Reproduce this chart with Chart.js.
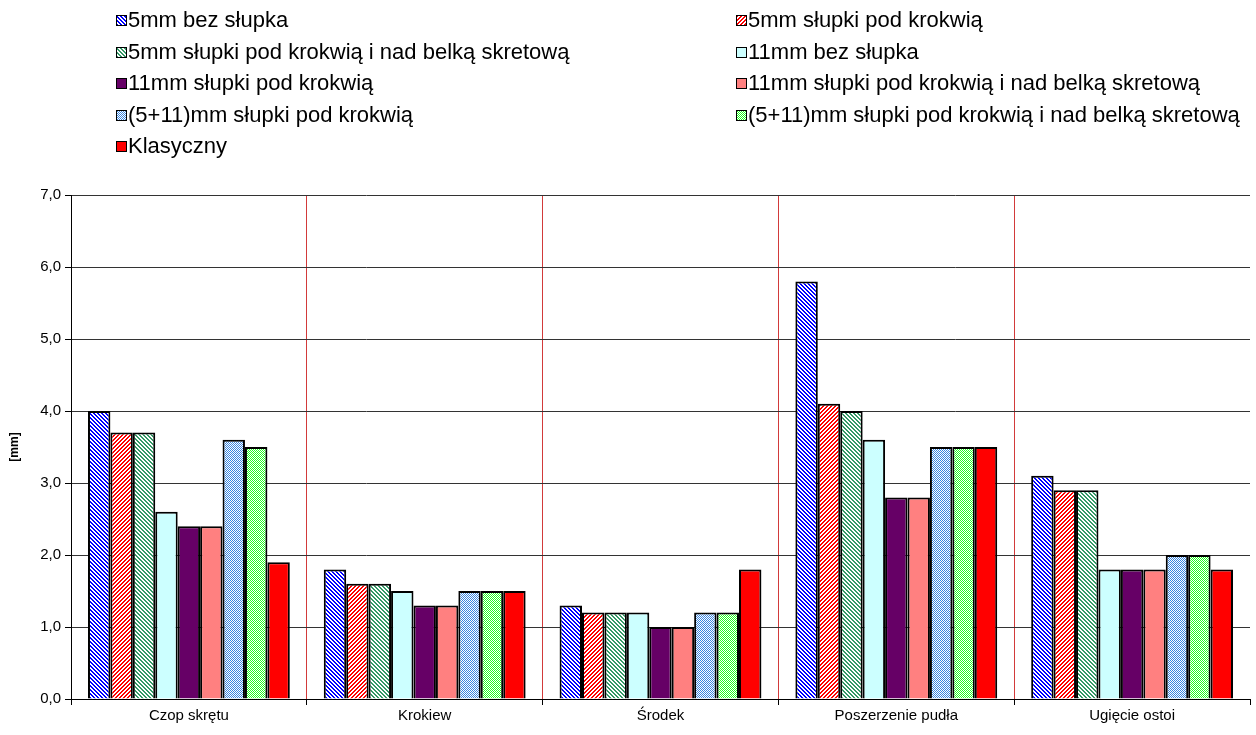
<!DOCTYPE html>
<html>
<head>
<meta charset="utf-8">
<script src="https://cdn.jsdelivr.net/npm/chart.js@4"></script>
<style>
  html, body { margin: 0; padding: 0; background: #ffffff; }
  #wrap { width: 1256px; height: 735px; position: relative; }
</style>
</head>
<body>
<div id="wrap"><canvas id="chart"></canvas></div>
<script>
// Deflection measurements [mm] for each variant at five measuring points
const categories = ['Czop skrętu', 'Krokiew', 'Środek', 'Poszerzenie pudła', 'Ugięcie ostoi'];

const seriesNames = [
  '5mm bez słupka',
  '5mm słupki pod krokwią',
  '5mm słupki pod krokwią i nad belką skretową',
  '11mm bez słupka',
  '11mm słupki pod krokwią',
  '11mm słupki pod krokwią i nad belką skretową',
  '(5+11)mm słupki pod krokwią',
  '(5+11)mm słupki pod krokwią i nad belką skretową',
  'Klasyczny'
];

const v5mmBez        = [4.0, 1.8, 1.3, 5.8, 3.1];
const v5mmKrokiew    = [3.7, 1.6, 1.2, 4.1, 2.9];
const v5mmKrokBelka  = [3.7, 1.6, 1.2, 4.0, 2.9];
const v11mmBez       = [2.6, 1.5, 1.2, 3.6, 1.8];
const v11mmKrokiew   = [2.4, 1.3, 1.0, 2.8, 1.8];
const v11mmKrokBelka = [2.4, 1.3, 1.0, 2.8, 1.8];
const v516Krokiew    = [3.6, 1.5, 1.2, 3.5, 2.0];
const v516KrokBelka  = [3.5, 1.5, 1.2, 3.5, 2.0];
const vKlasyczny     = [1.9, 1.5, 1.8, 3.5, 1.8];

const yTickLabels = ['0,0', '1,0', '2,0', '3,0', '4,0', '5,0', '6,0', '7,0'];
const yAxisTitle = '[mm]';

// --- fill patterns -------------------------------------------------------
function tile(size, paint) {
  const c = document.createElement('canvas');
  c.width = size; c.height = size;
  const g = c.getContext('2d');
  g.fillStyle = '#ffffff';
  g.fillRect(0, 0, size, size);
  paint(g);
  return g.createPattern(c, 'repeat');
}
function stripes(color, falling) {
  return tile(4, g => {
    g.fillStyle = color;
    for (let y = 0; y < 4; y++) {
      for (let x = 0; x < 4; x++) {
        const k = falling ? (x - y + 8) % 4 : (x + y) % 4;
        if (k < 2) g.fillRect(x, y, 1, 1);
      }
    }
  });
}
function checker(color) {
  return tile(2, g => {
    g.fillStyle = color;
    g.fillRect(0, 0, 1, 1);
    g.fillRect(1, 1, 1, 1);
  });
}

const fills = [
  stripes('#0000ff', true),
  stripes('#ff0000', false),
  stripes('#339966', true),
  '#ccffff',
  '#660066',
  '#ff8080',
  checker('#3a86e0'),
  checker('#22ff22'),
  '#ff0000'
];

const values = [v5mmBez, v5mmKrokiew, v5mmKrokBelka, v11mmBez, v11mmKrokiew,
                v11mmKrokBelka, v516Krokiew, v516KrokBelka, vKlasyczny];

const datasets = values.map((data, i) => ({
  label: seriesNames[i],
  data: data,
  backgroundColor: fills[i],
  borderColor: '#000000',
  borderWidth: 2,
  categoryPercentage: 0.856,
  barPercentage: 1.0
}));

// --- two-column legend drawn above the plot ------------------------------
const legendTwoColumns = {
  id: 'legendTwoColumns',
  afterDraw(chart) {
    const ctx = chart.ctx;
    const cols = [116, 736];
    const rowTop = 20, rowGap = 31.5, box = 11;
    ctx.save();
    ctx.font = '22px "Liberation Sans", Arial, sans-serif';
    ctx.textBaseline = 'middle';
    ctx.textAlign = 'left';
    chart.data.datasets.forEach((ds, i) => {
      const col = i % 2, row = Math.floor(i / 2);
      const x = cols[col], y = Math.round(rowTop + row * rowGap);
      ctx.fillStyle = ds.backgroundColor;
      ctx.fillRect(x, y - 5, box, box);
      ctx.strokeStyle = '#000000';
      ctx.lineWidth = 1;
      ctx.strokeRect(x + 0.5, y - 4.5, box - 1, box - 1);
      ctx.fillStyle = '#000000';
      ctx.fillText(ds.label, x + box + 1, y + 1);
    });
    ctx.restore();
  }
};

Chart.defaults.font.family = '"Liberation Sans", Arial, sans-serif';
Chart.defaults.color = '#000000';

const noLine = 'rgba(0,0,0,0)';

new Chart(document.getElementById('chart'), {
  type: 'bar',
  data: { labels: categories, datasets: datasets },
  options: {
    responsive: true,
    maintainAspectRatio: false,
    animation: false,
    layout: { padding: { top: 195, right: 6, left: 0, bottom: 0 } },
    plugins: {
      legend: { display: false },
      tooltip: { enabled: false }
    },
    scales: {
      x: {
        offset: true,
        grid: {
          offset: true,
          color: c => (c.type !== 'tick' || c.index === 0) ? noLine : '#d23a3a',
          lineWidth: 1,
          tickColor: '#000000',
          tickLength: 6,
          drawTicks: true
        },
        border: { color: '#000000', width: 1 },
        ticks: { font: { size: 15 }, padding: 2, maxRotation: 0 },
        afterFit: s => { s.height = 36; }
      },
      y: {
        min: 0,
        max: 7,
        ticks: {
          stepSize: 1,
          font: { size: 15 },
          padding: 4,
          callback: (v) => yTickLabels[Math.round(v)]
        },
        grid: { color: '#333333', lineWidth: 1, tickColor: '#000000', tickLength: 6 },
        border: { color: '#000000', width: 1 },
        title: {
          display: true,
          text: yAxisTitle,
          font: { size: 12, weight: 'bold' },
          padding: { top: 7, bottom: 0 }
        },
        afterFit: s => { s.width = 71; }
      }
    }
  },
  plugins: [legendTwoColumns]
});
</script>
</body>
</html>
